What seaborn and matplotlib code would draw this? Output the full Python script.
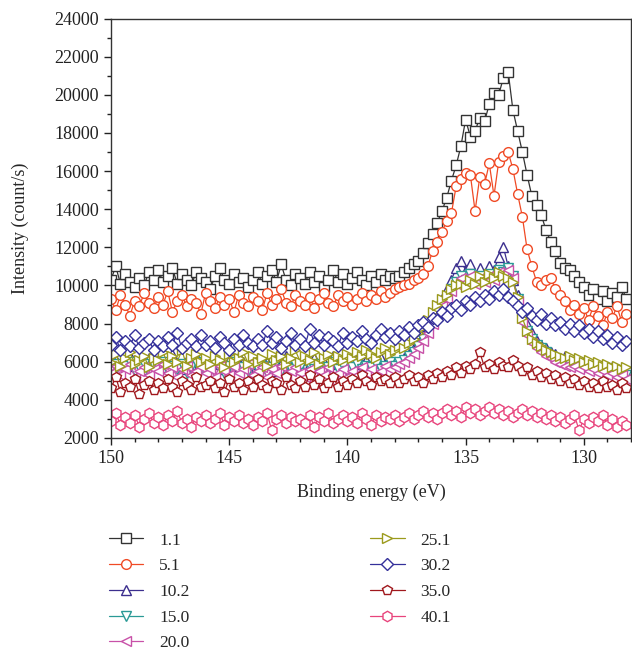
import numpy as np
import seaborn as sns
import matplotlib.pyplot as plt
from matplotlib.ticker import MultipleLocator

# binding energy grid (eV), 150 -> 128.2 in 0.2 steps
energy = np.round(np.arange(150.0, 128.1, -0.2), 1)

s_1_1 = [10300, 11000, 10100, 10600, 10200, 9900, 10400, 10000, 10700, 10300,
         10800, 10200, 10500, 10900, 10100, 10600, 10300, 10000, 10700, 10400,
         10200, 9800, 10500, 10900, 10300, 10100, 10600, 10200, 10400, 9900,
         10300, 10700, 10100, 10500, 10800, 10200, 11100, 10300, 10000, 10600,
         10400, 10100, 10700, 10200, 10500, 9900, 10300, 10800, 10200, 10600,
         10100, 10400, 10700, 10300, 10000, 10500, 10200, 10600, 10300, 10500,
         10400, 10500, 10700, 10900, 11100, 11300, 11700, 12200, 12700, 13300,
         13900, 14600, 15500, 16300, 17300, 18700, 17800, 18100, 18800, 18600,
         19500, 20100, 20000, 20900, 21200, 19200, 18100, 17000, 15800, 14700,
         14200, 13700, 12900, 12300, 11800, 11200, 10900, 10800, 10500, 10200,
         9900, 9500, 9800, 9300, 9700, 9200, 9600, 9400, 9900, 9300]

s_5_1 = [9300, 8700, 9500, 9000, 8400, 9200, 8900, 9600, 9100, 8800,
         9400, 9000, 9700, 8600, 9200, 9500, 8900, 9300, 9100, 8500,
         9600, 9200, 8800, 9400, 9000, 9300, 8600, 9500, 9100, 8900,
         9400, 9200, 8700, 9600, 9000, 9300, 9800, 9100, 8900, 9500,
         9200, 9000, 9400, 8800, 9300, 9600, 9100, 8900, 9500, 9200,
         9400, 9000, 9300, 9600, 9200, 9500, 9300, 9700, 9400, 9600,
         9800, 9900, 10000, 10100, 10300, 10400, 10600, 11000, 11800, 12300,
         12800, 13400, 13800, 15200, 15600, 15900, 15800, 13900, 15700, 15300,
         16400, 14700, 16500, 16800, 17000, 16100, 14800, 13600, 11900, 11000,
         10200, 10000, 10300, 10400, 9800, 9500, 9200, 8700, 9000, 8500,
         8800, 8200, 8900, 8400, 7900, 8600, 8300, 8900, 8100, 8500]

s_10_2 = [5700, 6100, 5500, 5900, 6300, 5800, 6000, 5600, 6200, 5900,
          6100, 5700, 6000, 6400, 5800, 5600, 6100, 5900, 6300, 5800,
          6000, 5700, 6200, 5900, 5600, 6100, 5800, 6300, 6000, 5700,
          5900, 6200, 5800, 6000, 5500, 6100, 5900, 6300, 5700, 6000,
          5800, 6100, 5900, 6200, 5700, 6000, 5800, 6300, 5900, 6100,
          5800, 6000, 6200, 5900, 6100, 5800, 6000, 6200, 5900, 6100,
          6000, 6000, 6200, 6400, 6700, 7000, 7400, 7900, 8400, 8900,
          9300, 9800, 10300, 10900, 11300, 10800, 11100, 10500, 10900, 10600,
          11000, 10800, 11500, 12000, 11000, 10300, 9500, 8700, 8000, 7500,
          7100, 6900, 6700, 6500, 6400, 6200, 6300, 6000, 6100, 5900,
          6000, 5800, 5900, 5700, 5800, 5600, 5700, 5500, 5600, 5400]

s_15_0 = [5600, 5900, 5400, 5800, 6000, 5500, 5700, 5900, 5400, 5800,
          5700, 6000, 5500, 5800, 5600, 5900, 5400, 5700, 6000, 5600,
          5800, 5500, 5900, 5700, 5400, 5800, 6000, 5600, 5700, 5500,
          5900, 5600, 5800, 5400, 5700, 6000, 5500, 5800, 5600, 5900,
          5700, 5400, 5800, 5600, 5900, 5500, 5700, 6000, 5600, 5800,
          5500, 5700, 5900, 5600, 5800, 5700, 5900, 5600, 5800, 6000,
          5800, 6000, 6100, 6300, 6500, 6800, 7200, 7700, 8100, 8600,
          9000, 9400, 9800, 10200, 10500, 10300, 10600, 10200, 10500, 10300,
          10600, 10400, 10800, 10700, 10900, 10500, 9300, 8200, 7600, 7200,
          6900, 6700, 6500, 6300, 6200, 6100, 6000, 5900, 6000, 5800,
          5900, 5700, 5800, 5600, 5700, 5500, 5600, 5400, 5500, 5300]

s_20_0 = [5400, 5800, 5300, 5600, 5900, 5200, 5500, 5700, 5300, 5600,
          5500, 5900, 5400, 5700, 5200, 5600, 5800, 5300, 5500, 5700,
          5400, 5600, 5200, 5800, 5500, 5300, 5700, 5400, 5600, 5900,
          5300, 5500, 5700, 5200, 5600, 5400, 5800, 5300, 5500, 5700,
          5400, 5200, 5600, 4900, 5500, 5300, 5700, 5000, 5400, 5600,
          5200, 5500, 5300, 5700, 5400, 5600, 5300, 5500, 5800, 5600,
          5700, 5900, 6000, 6200, 6400, 6700, 7100, 7500, 8000, 8500,
          8900, 9300, 9700, 10100, 10400, 10200, 10500, 10100, 10400, 10200,
          10500, 10300, 10700, 10600, 10800, 10400, 9200, 8100, 7400, 7000,
          6700, 6500, 6300, 6200, 6000, 5900, 5800, 5700, 5800, 5600,
          5700, 5500, 5600, 5400, 5500, 5300, 5400, 5200, 5300, 5100]

s_25_1 = [6000, 6400, 5800, 6200, 6500, 5900, 6100, 6300, 5700, 6200,
          6100, 6500, 5900, 6300, 6000, 6600, 5800, 6200, 6400, 6000,
          6200, 5900, 6300, 6100, 5700, 6400, 6000, 6200, 6500, 5900,
          6300, 6000, 6200, 5800, 6400, 6100, 6300, 5900, 6200, 6600,
          6000, 6300, 6100, 6500, 5900, 6200, 6400, 6000, 6300, 6100,
          6400, 6200, 6500, 6300, 6600, 6400, 6200, 6500, 6700, 6400,
          6600, 6800, 6700, 7000, 7200, 7500, 7800, 8200, 8600, 9000,
          9300, 9500, 9800, 10000, 10100, 9900, 10300, 10100, 10500, 10200,
          10600, 10400, 10700, 10500, 10400, 10200, 9400, 8300, 7600, 7200,
          7000, 6800, 6600, 6500, 6400, 6300, 6200, 6300, 6100, 6200,
          6000, 6100, 5900, 6000, 5800, 5900, 5700, 5800, 5600, 5700]

s_30_2 = [6900, 7300, 6600, 7100, 6800, 7400, 6700, 7000, 7200, 6600,
          7100, 6800, 7300, 6900, 7500, 6700, 7000, 7200, 6800, 7400,
          6900, 7100, 6700, 7300, 7000, 6600, 7200, 6900, 7400, 7000,
          6800, 7200, 6900, 7600, 7000, 7300, 6700, 7100, 7500, 6900,
          7200, 6800, 7700, 7000, 7400, 6900, 7300, 7100, 6800, 7500,
          7000, 7300, 7100, 7600, 7200, 7000, 7400, 7700, 7300, 7500,
          7200, 7600, 7400, 7800, 7500, 7900, 8100, 7800, 8300, 8200,
          8600, 8400, 8800, 9000, 8700, 9200, 9000, 9400, 9200, 9500,
          9300, 9700, 9500, 9800, 9400, 9200, 8900, 8600, 8800, 8400,
          8200, 8500, 8000, 8300, 7900, 8100, 7700, 8000, 7600, 7900,
          7500, 7700, 7300, 7600, 7200, 7400, 7000, 7300, 6900, 7100]

s_35_0 = [4600, 5200, 4400, 4900, 4700, 5100, 4300, 4800, 5000, 4500,
          4900, 4600, 5100, 4700, 4400, 5000, 4800, 4500, 5200, 4700,
          4800, 5000, 4600, 4900, 4400, 5100, 4700, 4900, 4500, 5000,
          4700, 5100, 4800, 4600, 5000, 4900, 4500, 5200, 4800, 4600,
          5000, 4700, 5300, 4800, 5100, 4600, 4900, 5200, 4700, 5000,
          4800, 5100, 4900, 5300, 5000, 4800, 5200, 5000, 5100, 4900,
          5200, 4900, 5100, 5300, 5000, 5200, 4900, 5300, 5100, 5400,
          5200, 5500, 5300, 5700, 5400, 5800, 5600, 5900, 6500, 5700,
          5900, 5600, 6000, 5800, 5700, 6100, 5800, 5500, 5700, 5300,
          5500, 5200, 5400, 5100, 5300, 5000, 5200, 4900, 5100, 4800,
          5000, 4700, 4900, 4600, 5000, 4700, 4800, 4500, 4900, 4600]

s_40_1 = [2900, 3300, 2700, 3100, 2800, 3200, 2600, 3000, 3300, 2800,
          3100, 2700, 3200, 2900, 3400, 2800, 3000, 2600, 3100, 2900,
          3200, 2800, 3000, 3300, 2700, 3100, 2900, 3200, 2800, 3000,
          2700, 3100, 2900, 3300, 2400, 3000, 3200, 2800, 3100, 2900,
          3000, 2800, 3200, 2600, 3100, 2900, 3300, 2800, 3000, 3200,
          2900, 3100, 2800, 3300, 3000, 2700, 3200, 2900, 3100, 3000,
          3200, 2900, 3100, 3300, 3000, 3200, 3400, 3100, 3300, 3000,
          3300, 3500, 3200, 3400, 3100, 3600, 3300, 3500, 3200, 3400,
          3600, 3300, 3500, 3200, 3400, 3100, 3300, 3500, 3200, 3400,
          3100, 3300, 3000, 3200, 2900, 3100, 2800, 3000, 3200, 2400,
          3000, 2800, 3100, 2900, 3200, 2700, 3000, 2600, 2900, 2700]

labels = ['1.1', '5.1', '10.2', '15.0', '20.0', '25.1', '30.2', '35.0', '40.1']
series = [s_1_1, s_5_1, s_10_2, s_15_0, s_20_0, s_25_1, s_30_2, s_35_0, s_40_1]
colors = ['#333333', '#f04a25', '#3c2f8e', '#2a9a96', '#c851a8',
          '#9b9a1c', '#34309a', '#a0181d', '#e8447c']
markers = ['s', 'o', '^', 'v', '<', '>', 'D', 'p', 'h']
msizes = [6.5, 7, 7, 7, 7, 7, 6, 7, 7.5]

sns.set_style('ticks')
plt.rcParams['font.family'] = ['Liberation Serif', 'DejaVu Serif']

fig = plt.figure(figsize=(6.32, 6.54), dpi=100)
ax = fig.add_axes([0.1756, 0.3303, 0.823, 0.6414])

for vals, lab, col, mk, ms in zip(series, labels, colors, markers, msizes):
    sns.lineplot(x=energy, y=vals, ax=ax, color=col, marker=mk, markersize=ms,
                 markerfacecolor='white', markeredgecolor=col, markeredgewidth=1.0,
                 linewidth=0.9, label=lab, sort=False)

ax.set_xlim(150, 128)
ax.set_ylim(2000, 24000)
ax.xaxis.set_major_locator(MultipleLocator(5))
ax.xaxis.set_minor_locator(MultipleLocator(1))
ax.yaxis.set_major_locator(MultipleLocator(2000))
ax.yaxis.set_minor_locator(MultipleLocator(1000))
ax.tick_params(which='major', direction='out', length=5, width=1, labelsize=13, colors='#222222')
ax.tick_params(which='minor', direction='out', length=3, width=1, colors='#222222')
for sp in ax.spines.values():
    sp.set_color('#333333')
    sp.set_linewidth(1.0)

ax.set_xlabel('Binding energy (eV)', fontsize=13, labelpad=12)
ax.set_ylabel('Intensity (count/s)', fontsize=13, labelpad=18)

handles, labs = ax.get_legend_handles_labels()
ax.legend_.remove()
fig.legend(handles, labs, loc='upper left', bbox_to_anchor=(0.172, 0.186),
           ncol=2, frameon=False, fontsize=12.5, handlelength=2.0, markerscale=1.0,
           handletextpad=0.9, columnspacing=10.4, labelspacing=0.55,
           borderpad=0, borderaxespad=0)

fig.savefig('out.png', dpi=100)
